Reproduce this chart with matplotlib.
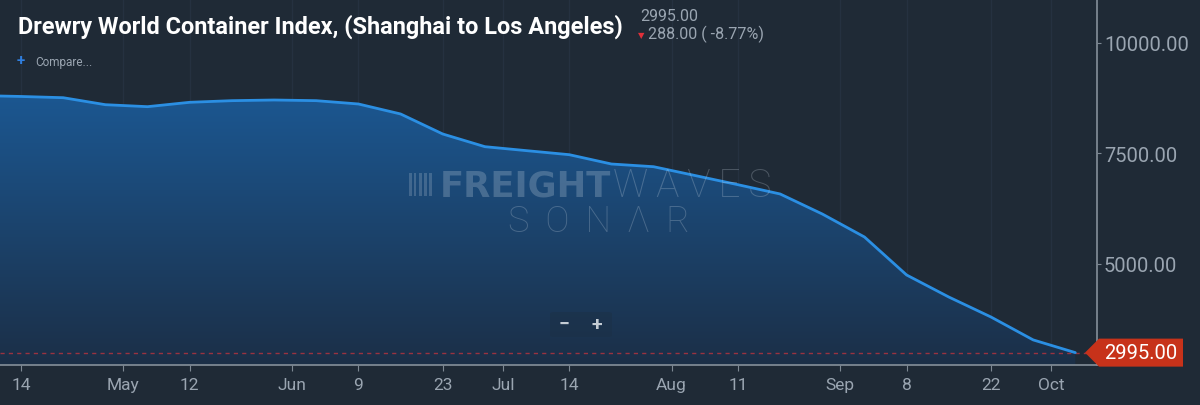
"""
Drewry WCI Shanghai -> Los Angeles, SONAR style chart
"""
import numpy as np
import matplotlib
matplotlib.use("Agg")
import matplotlib.pyplot as plt
import matplotlib.dates as mdates
from matplotlib.patches import Polygon, Rectangle, FancyBboxPatch
from matplotlib.colors import LinearSegmentedColormap

plt.rcParams['font.family'] = ['Roboto', 'DejaVu Sans']

# weekly index values (Thursdays, 2022)
dates = ["2022-04-07", "2022-04-14", "2022-04-21", "2022-04-28", "2022-05-05",
         "2022-05-12", "2022-05-19", "2022-05-26", "2022-06-02", "2022-06-09",
         "2022-06-16", "2022-06-23", "2022-06-30", "2022-07-07", "2022-07-14",
         "2022-07-21", "2022-07-28", "2022-08-04", "2022-08-11", "2022-08-18",
         "2022-08-25", "2022-09-01", "2022-09-08", "2022-09-15", "2022-09-22",
         "2022-09-29", "2022-10-06"]
values = [8810, 8790, 8762, 8604, 8559, 8658, 8695, 8710, 8695, 8620,
          8394, 7941, 7654, 7563, 7473, 7262, 7201, 6998, 6794, 6584,
          6131, 5611, 4751, 4253, 3801, 3283, 2995]

tick_dates = ["2022-04-14", "2022-05-01", "2022-05-12", "2022-05-29", "2022-06-09",
              "2022-06-23", "2022-07-03", "2022-07-14", "2022-07-31", "2022-08-11",
              "2022-08-28", "2022-09-08", "2022-09-22", "2022-10-02"]
tick_labels = ["14", "May", "12", "Jun", "9", "23", "Jul", "14", "Aug", "11",
               "Sep", "8", "22", "Oct"]
y_ticks = [5000, 7500, 10000]

last_value = values[-1]
prev_value = values[-2]

BG = "#1f2a36"
LINE = "#2b8fe3"
GRAY = "#9aa5b1"
RED = "#c7321a"

W, H = 1200, 406
fig = plt.figure(figsize=(W / 100, H / 100), dpi=100, facecolor=BG)
ax = fig.add_axes([0, 1 - 366 / H, 1097 / W, 366 / H], facecolor=BG)

x = mdates.date2num(np.array(dates, dtype="datetime64[D]"))
x_start = mdates.date2num(np.datetime64("2022-04-14")) - 3.49
x_end = mdates.date2num(np.datetime64("2022-04-14")) + 178.6
y_lo, y_hi = 2715, 10995
ax.set_xlim(x_start, x_end)
ax.set_ylim(y_lo, y_hi)

# gradient area under the line
cmap = LinearSegmentedColormap.from_list("fill", ["#1c2f47", "#1b5791"])
grad = np.linspace(0, 1, 256).reshape(-1, 1)
im = ax.imshow(grad, extent=[x_start, x_end, y_lo, max(values)], origin="lower",
               aspect="auto", cmap=cmap, zorder=1)
verts = [(x[0], y_lo)] + list(zip(x, values)) + [(x[-1], y_lo)]
clip = Polygon(verts, closed=True, transform=ax.transData)
im.set_clip_path(clip)

ax.plot(x, values, color=LINE, lw=2, zorder=3, solid_capstyle="round")
ax.axhline(last_value, color="#9a3340", lw=1, ls=(0, (3, 3)), zorder=2)

# axes styling
for s in ["top", "left"]:
    ax.spines[s].set_visible(False)
for s in ["right", "bottom"]:
    ax.spines[s].set_color("#7d8893")
    ax.spines[s].set_linewidth(1.3)

ax.set_xticks(mdates.date2num(np.array(tick_dates, dtype="datetime64[D]")))
ax.set_xticklabels(tick_labels)
ax.yaxis.tick_right()
ax.set_yticks(y_ticks)
ax.set_yticklabels(["%.2f" % v for v in y_ticks])
ax.tick_params(axis="x", colors="#7d8893", labelcolor=GRAY, labelsize=12.5,
               length=4, pad=5)
ax.tick_params(axis="y", colors="#7d8893", labelcolor=GRAY, labelsize=14.5,
               length=3, pad=2)
ax.grid(axis="x", color="#253140", lw=1, zorder=0)
ax.set_axisbelow(True)

# header texts
fig.text(18 / W, 1 - 34 / H, "Drewry World Container Index, (Shanghai to Los Angeles)",
         color="white", fontsize=16.9, fontweight="bold", va="baseline")
fig.text(640 / W, 1 - 21 / H, "%.2f" % last_value, color=GRAY, fontsize=11.5,
         va="baseline")
fig.text(638 / W, 1 - 38 / H, "\u25bc", color="#e0303a", fontsize=6,
         va="baseline")
change = last_value - prev_value
fig.text(648 / W, 1 - 39 / H, "%.2f ( %.2f%%)" % (abs(change), change / prev_value * 100),
         color=GRAY, fontsize=11.5, va="baseline")
fig.text(17 / W, 1 - 65 / H, "+", color="#2f7fe0", fontsize=11, fontweight="bold",
         va="baseline")
fig.text(35 / W, 1 - 66 / H, "Compare...", color=GRAY, fontsize=8.5, va="baseline")

# watermark
wm = dict(color="#c9d4e0", alpha=0.26, va="baseline")
t1 = fig.text(440 / W, 1 - 197 / H, "FREIGHT", fontsize=25.5, fontweight="bold",
              family="DejaVu Sans", **wm)
fig.canvas.draw()
bb = t1.get_window_extent()
fig.text(bb.x1 / W + 2 / W, 1 - 197 / H, "W\u2009A\u2009V\u2009E\u2009S", fontsize=28,
         fontweight="light", **wm)
fig.text(599 / W, 1 - 232 / H, "S\u2009 O\u2009 N\u2009 \u039b\u2009 R", fontsize=26,
         fontweight="light", ha="center", **wm)
for bx in [409, 414, 419, 424, 429]:
    fig.add_artist(Rectangle((bx / W, 1 - 197 / H), 2.5 / W, 23 / H,
                             transform=fig.transFigure, color="#c9d4e0",
                             alpha=0.22, lw=0))

# zoom buttons
fig.add_artist(FancyBboxPatch((550 / W, 1 - 338 / H), 62 / W, 25 / H,
                              boxstyle="round,pad=0,rounding_size=0.004",
                              transform=fig.transFigure, color="#1b3148",
                              alpha=0.6, lw=0))
fig.text(564 / W, 1 - 325 / H, "\u2212", color="#c4ccd4", fontsize=14,
         fontweight="bold", ha="center", va="center")
fig.text(597 / W, 1 - 325 / H, "+", color="#c4ccd4", fontsize=14,
         fontweight="bold", ha="center", va="center")

# last price tag
yc = ax.transData.transform((x_start, last_value))[1]
tag = [(1085, yc), (1099, yc - 14), (1183, yc - 14), (1183, yc + 14), (1099, yc + 14)]
tag = [(px / W, py / H) for px, py in tag]
fig.add_artist(Polygon(tag, closed=True, transform=fig.transFigure, color=RED, lw=0))
fig.text(1141 / W, yc / H, "%.2f" % last_value, color="white", fontsize=14.5,
         ha="center", va="center")

fig.savefig("out.png", dpi=100, facecolor=BG)
